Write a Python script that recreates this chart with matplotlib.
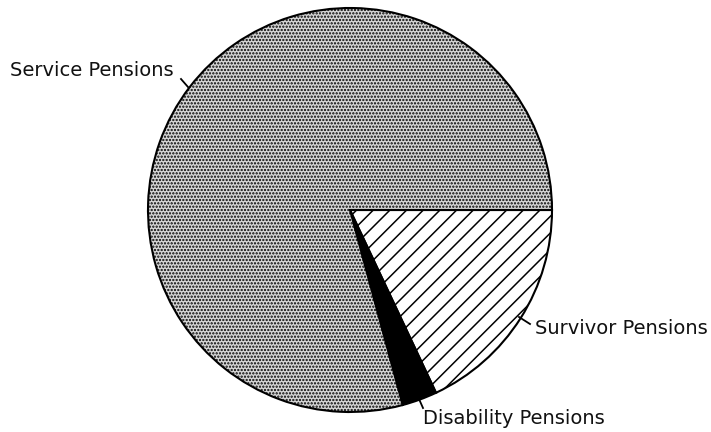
import matplotlib.pyplot as plt

# pension shares (percent)
labels = ["Survivor Pensions", "Disability Pensions", "Service Pensions"]
shares = [18.0, 2.8, 79.2]

plt.rcParams["hatch.linewidth"] = 1.1

fig = plt.figure(figsize=(7.11, 4.32), dpi=100)
ax = fig.add_axes([0, 0, 1, 1])

wedges, _ = ax.pie(shares, center=(350, 210), radius=202, startangle=0,
                   counterclock=True, frame=True,
                   wedgeprops=dict(edgecolor="black", linewidth=1.5))
ax.set_xlim(0, 711)
ax.set_ylim(432, 0)  # pixel-like coordinates, y going down
ax.set_aspect("equal")
ax.axis("off")

wedges[0].set_facecolor("white")
wedges[0].set_hatch("//")
wedges[1].set_facecolor("black")
wedges[2].set_facecolor("#d6d6d6")
wedges[2].set_hatch(".....")

font = dict(fontsize=14, family="DejaVu Sans", color="#111111", va="center")
ax.text(10, 70, labels[2], ha="left", **font)
ax.text(535, 329, labels[0], ha="left", **font)
ax.text(423, 418, labels[1], ha="left", **font)

# little leader ticks
ax.plot([181, 188], [79, 87], color="black", lw=1.3)
ax.plot([519, 530], [317, 324], color="black", lw=1.3)
ax.plot([419, 423], [399, 408], color="black", lw=1.3)

fig.savefig("out.png", dpi=100)
